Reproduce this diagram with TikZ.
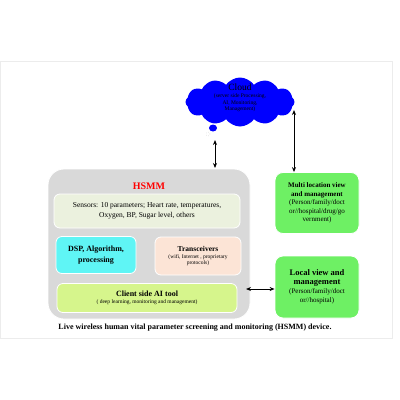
\documentclass[tikz,border=0pt]{standalone}
\usepackage{fontspec}
\setmainfont{Liberation Serif}
\usetikzlibrary{shapes.symbols,shapes.geometric,arrows.meta}
\definecolor{hgray}{RGB}{217,217,217}
\definecolor{sens}{RGB}{235,241,222}
\definecolor{dsp}{RGB}{95,245,245}
\definecolor{trx}{RGB}{252,228,214}
\definecolor{cli}{RGB}{214,245,140}
\definecolor{grn}{RGB}{110,240,100}
\definecolor{cloudblue}{RGB}{0,0,255}
\tikzset{
  rbox/.style={draw=white, line width=0.8pt, rounded corners=6pt, align=center, inner sep=1pt},
  dbl/.style={{Stealth[length=5pt,width=4pt]}-{Stealth[length=5pt,width=4pt]}, line width=1pt},
}
\begin{document}
\begin{tikzpicture}[x=1pt,y=-1pt]
\useasboundingbox (0,0) rectangle (400,400);
\fill[white] (0,0) rectangle (400,400);
\draw[gray!15, line width=0.8pt] (0,61) rectangle (392,338);

% cloud
\node[cloud, cloud puffs=12, cloud puff arc=110, aspect=2.2, fill=cloudblue, draw=none,
  minimum width=109pt, minimum height=49pt, inner sep=0pt] (cloud) at (240,102) {};
\node[align=center, inner sep=0pt, font=\fontsize{9.5}{9.5}\selectfont] (cloudt) at (240,87) {Cloud};
\node[align=center, inner sep=0pt, font=\fontsize{5.5}{6.5}\selectfont] (cloudsub) at (240,103)
  {(server side Processing,\\AI, Monitoring,\\Management)};
\node[ellipse, fill=cloudblue, minimum width=8pt, minimum height=7pt, inner sep=0pt] (bub1) at (213,128) {};
\node[circle, draw=gray!60, dotted, fill=white, minimum size=4pt, inner sep=0pt] (bub2) at (208,134) {};

% HSMM main box
\node[rbox, fill=hgray, rounded corners=16pt, minimum width=202pt, minimum height=150pt] (hsmm) at (149,244) {};
\node[font=\fontsize{10}{10}\selectfont\bfseries, text=red, inner sep=0pt] (title) at (149,186) {HSMM};
\node[rbox, fill=sens, minimum width=186pt, minimum height=34pt, font=\fontsize{7.5}{9.5}\selectfont] (sensors) at (147,211)
  {Sensors: 10 parameters; Heart rate, temperatures,\\Oxygen, BP, Sugar level, others};
\node[rbox, fill=dsp, minimum width=80pt, minimum height=37pt, font=\fontsize{8}{10.5}\selectfont\bfseries] (dsp) at (96,255)
  {DSP, Algorithm,\\processing};
\node[rbox, fill=trx, minimum width=86pt, minimum height=38pt, font=\fontsize{5.5}{6.5}\selectfont] (trx) at (198,256)
  {{\fontsize{7.5}{9}\selectfont\bfseries Transceivers}\\(wifi, Internet , proprietary\\protocols)};
\node[rbox, fill=cli, minimum width=180pt, minimum height=29pt, font=\fontsize{5.5}{7}\selectfont] (client) at (147,298)
  {{\fontsize{8}{10}\selectfont\bfseries Client side AI tool}\\( deep learning, monitoring and management)};

% right boxes
\node[rbox, fill=grn, rounded corners=8pt, minimum width=84pt, minimum height=61pt, font=\fontsize{7}{8.6}\selectfont] (multi) at (317,203)
  {\textbf{Multi location view}\\\textbf{and management}\\(Person/family/doct\\or//hospital/drug/go\\vernment)};
\node[rbox, fill=grn, rounded corners=8pt, minimum width=84pt, minimum height=62pt, font=\fontsize{7}{9}\selectfont] (local) at (317,287)
  {{\fontsize{8.5}{10}\selectfont\bfseries Local view and}\\{\fontsize{8.5}{10}\selectfont\bfseries management}\\(Person/family/doct\\or//hospital)};

% connectors
\coordinate (a1) at (215,140);
\coordinate (a2) at (215,168);
\draw[dbl] (a1) -- (a2);
\coordinate (b1) at (294,110);
\draw[dbl] (b1) -- (multi.north -| b1);
\coordinate (c1) at (246,289);
\draw[dbl] (c1) -- (local.west |- c1);

% caption
\node[font=\fontsize{8}{10}\selectfont\bfseries, inner sep=0pt] (caption) at (195,328)
  {Live wireless human vital parameter screening and monitoring (HSMM) device.};
\end{tikzpicture}
\end{document}
